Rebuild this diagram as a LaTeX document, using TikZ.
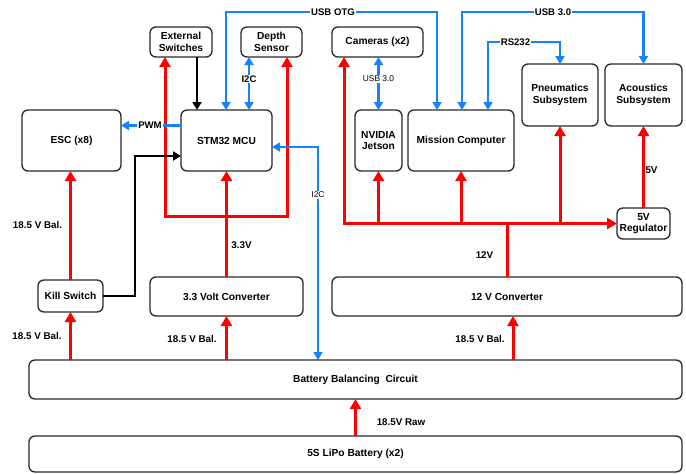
\documentclass[tikz,border=0pt]{standalone}
\usepackage{fontspec}
\setmainfont{Liberation Sans}
\usetikzlibrary{arrows.meta,calc}
\definecolor{pwrred}{RGB}{255,0,0}
\definecolor{sigblue}{RGB}{22,130,255}
\definecolor{boxline}{RGB}{40,40,40}
\begin{document}
\begin{tikzpicture}[x=1pt,y=-1pt,
  box/.style={draw=boxline, line width=1.3pt, rounded corners=6pt, align=center,
    font=\fontsize{10.2}{11.7}\selectfont\bfseries, inner sep=0pt, outer sep=0pt, fill=white},
  lbl/.style={font=\fontsize{9.8}{11}\selectfont\bfseries, inner sep=0pt},
  onl/.style={font=\fontsize{9.6}{11}\selectfont\bfseries, fill=white, inner sep=1pt},
  onlthin/.style={font=\fontsize{8.4}{10}\selectfont, fill=white, inner sep=1pt},
  pwrline/.style={draw=pwrred, line width=3pt},
  pwr/.style={pwrline, -{Triangle[length=10pt,width=11pt]}},
  pwrtwo/.style={pwrline, {Triangle[length=10pt,width=11pt]}-{Triangle[length=10pt,width=11pt]}},
  sig/.style={draw=sigblue, line width=2.2pt},
  sigone/.style={sig, -{Triangle[length=8pt,width=9pt]}},
  sigtwo/.style={sig, {Triangle[length=8pt,width=9pt]}-{Triangle[length=8pt,width=9pt]}},
  sigthin/.style={draw=sigblue, line width=1.4pt, {Triangle[length=8pt,width=9pt]}-{Triangle[length=8pt,width=9pt]}},
  ctl/.style={draw=black, line width=2pt, -{Triangle[length=8pt,width=9pt]}}
]
\useasboundingbox (0,0) rectangle (686,474);

% boxes
\node[box, minimum width=62pt, minimum height=30pt] (extsw) at (181,42) {External\\Switches};
\node[box, minimum width=61pt, minimum height=30pt] (depth) at (271.5,42) {Depth\\Sensor};
\node[box, minimum width=91pt, minimum height=30pt] (cams) at (377.5,42) {Cameras (x2)};
\node[box, minimum width=91pt, minimum height=61pt] (stm) at (226.5,140.5) {STM32 MCU};
\node[box, minimum width=99pt, minimum height=61pt] (esc) at (71.5,140.5) {ESC (x8)};
\node[box, minimum width=47pt, minimum height=61pt] (jetson) at (378.5,140.5) {NVIDIA\\Jetson};
\node[box, minimum width=106pt, minimum height=61pt] (mission) at (461,140.5) {Mission Computer};
\node[box, minimum width=76pt, minimum height=62pt] (pneu) at (560,95) {Pneumatics\\Subsystem};
\node[box, minimum width=77pt, minimum height=62pt] (acou) at (643.5,95) {Acoustics\\Subsystem};
\node[box, minimum width=53pt, minimum height=31pt] (reg) at (643.5,223.5) {5V\\Regulator};
\node[box, minimum width=65pt, minimum height=32pt] (kill) at (70.5,296) {Kill Switch};
\node[box, minimum width=153pt, minimum height=39pt] (conv33) at (226.5,296.5) {3.3 Volt Converter};
\node[box, minimum width=350pt, minimum height=39pt] (conv12) at (507,296.5) {12 V Converter};
\node[box, minimum width=653pt, minimum height=39pt] (bal) at (355.5,379.5) {Battery Balancing~ Circuit};
\node[box, minimum width=653pt, minimum height=36pt] (lipo) at (355.5,454) {5S LiPo Battery (x2)};

% red power lines
\draw[pwr] (bal.north -| kill.south) -- (kill.south);
\draw[pwr] (bal.north -| conv33.south) -- (conv33.south);
\coordinate (c12x) at (513,0);
\draw[pwr] (bal.north -| c12x) -- (conv12.south -| c12x);
\draw[pwr] (lipo.north) -- (bal.south);
\draw[pwr] (kill.north) -- (esc.south -| kill.north);
\draw[pwr] (conv33.north) -- (stm.south -| conv33.north);
\coordinate (rl) at (165,216);
\coordinate (rr) at (287,216);
\draw[pwrtwo] (rl |- extsw.south) -- (rl) -- (rr) -- (rr |- depth.south);
\coordinate (hl) at (344,223.5);
\draw[pwrtwo] (hl |- cams.south) -- (hl) -- (hl -| reg.west);
\draw[pwrline] (conv12.north) -- (conv12.north |- hl);
\draw[pwr] (jetson.south |- hl) -- (jetson.south);
\draw[pwr] (mission.south |- hl) -- (mission.south);
\draw[pwr] (pneu.south |- hl) -- (pneu.south);
\draw[pwr] (reg.north) -- (acou.south);

% black control lines
\coordinate (bx) at (197,0);
\draw[ctl] (extsw.south -| bx) -- (stm.north -| bx);
\coordinate (kc) at (135,156);
\draw[ctl] (kill.east) -| (kc) -- (kc -| stm.west);

% blue signal lines
\coordinate (pw) at (150,125.5);
\draw[sigone] (stm.west |- pw) -- (esc.east |- pw);
\coordinate (otgA) at (226,12);
\coordinate (otgB) at (437,12);
\draw[sigtwo] (stm.north -| otgA) -- (otgA) -- (otgB) -- (mission.north -| otgB);
\coordinate (uA) at (462,12);
\coordinate (uB) at (643.5,12);
\draw[sigtwo] (mission.north -| uA) -- (uA) -- (uB) -- (acou.north);
\coordinate (rsA) at (488,42);
\coordinate (rsB) at (560,42);
\draw[sigtwo] (mission.north -| rsA) -- (rsA) -- (rsB) -- (pneu.north);
\coordinate (ix) at (249,79);
\draw[sigtwo] (depth.south -| ix) -- (stm.north -| ix);
\draw[sigtwo] (cams.south -| jetson.north) -- (jetson.north);
\coordinate (ic) at (318,147);
\draw[sigthin] (stm.east |- ic) -- (ic) -- (bal.north -| ic);

% on-line labels
\node[onl] (lpwm) at (pw) {PWM};
\node[onl] (lotg) at (333,12) {USB OTG};
\node[onl] (lusb) at (553,12) {USB 3.0};
\node[onl] (lrs) at (515.5,42) {RS232};
\node[onl] (li2c) at (ix) {I2C};
\node[onlthin] (lcu) at (378.5,79) {USB 3.0};
\node[onlthin] (li2cb) at (318,195) {I2C};

% free labels
\node[lbl] (lb1) at (37.5,225) {18.5 V Bal.};
\node[lbl] (lb2) at (37,336) {18.5 V Bal.};
\node[lbl] (lb3) at (192,339) {18.5 V Bal.};
\node[lbl] (lb4) at (480,339) {18.5 V Bal.};
\node[lbl] (lraw) at (401,422) {18.5V Raw};
\node[lbl] (l33) at (241.5,245) {3.3V};
\node[lbl] (l12) at (484.5,255) {12V};
\node[lbl] (l5) at (651.5,170) {5V};
\end{tikzpicture}
\end{document}
